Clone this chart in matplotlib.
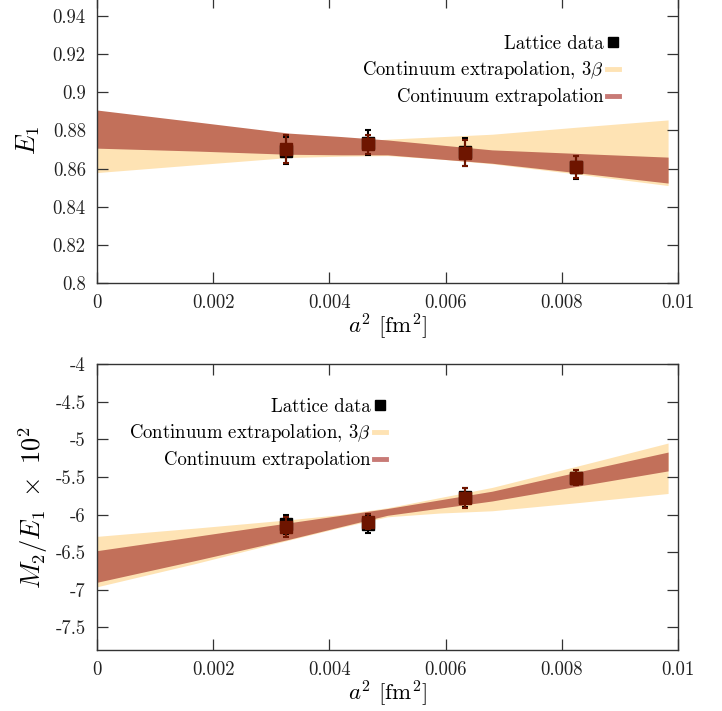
#!/usr/bin/env python3
# -*- coding: utf-8 -*-
"""E1 and M2/E1 vs a^2 with continuum extrapolation bands (two panels)."""

import matplotlib
matplotlib.use("Agg")
import matplotlib.pyplot as plt
from matplotlib.lines import Line2D
from matplotlib.ticker import FuncFormatter, MultipleLocator

# lattice spacings squared [fm^2]
a2 = [0.00325, 0.00466, 0.00633, 0.00824]

# top panel: E1
E1_black = [0.8694, 0.8736, 0.8686, 0.8606]
E1_black_err = [0.0072, 0.0067, 0.0073, 0.0062]
E1_red = [0.8702, 0.8728, 0.8682, 0.8609]
E1_red_err = [0.0075, 0.0050, 0.0068, 0.0059]

# bottom panel: M2/E1 x 10^2
M2_black = [-6.130, -6.126, -5.770, -5.510]
M2_black_err = [0.130, 0.120, 0.125, 0.100]
M2_red = [-6.165, -6.096, -5.780, -5.513]
M2_red_err = [0.133, 0.100, 0.130, 0.100]

band_x = [0.0, 0.0017, 0.0033, 0.0042, 0.0050, 0.0059, 0.0068, 0.0083, 0.00983]

E1_cont_lo = [0.8707, 0.8692, 0.8675, 0.8672, 0.8672, 0.8650, 0.8628, 0.8577, 0.8524]
E1_cont_hi = [0.8907, 0.8845, 0.8786, 0.8768, 0.8750, 0.8724, 0.8698, 0.8679, 0.8660]
E1_3b_lo = [0.8579, 0.8620, 0.8658, 0.8665, 0.8668, 0.8650, 0.8625, 0.8570, 0.8511]
E1_3b_hi = [0.8710, 0.8718, 0.8728, 0.8742, 0.8754, 0.8767, 0.8780, 0.8818, 0.8855]

M2_cont_lo = [-6.90, -6.61, -6.33, -6.16, -6.01, -5.915, -5.82, -5.62, -5.42]
M2_cont_hi = [-6.48, -6.29, -6.11, -6.01, -5.92, -5.805, -5.69, -5.43, -5.17]
M2_3b_lo = [-6.96, -6.65, -6.34, -6.17, -6.03, -5.98, -5.95, -5.84, -5.72]
M2_3b_hi = [-6.29, -6.18, -6.07, -6.00, -5.91, -5.775, -5.64, -5.35, -5.05]

labels = ["Lattice data", r"Continuum extrapolation, $3\beta$", "Continuum extrapolation"]

C_3B = "#FEE3B4"
C_CONT = "#C2705A"
C_CONT_KEY = "#C87A76"
C_RED_PT = "#6E1500"
C_AX = "#333333"

plt.rcParams["font.family"] = "serif"
plt.rcParams["font.serif"] = ["cmr10", "DejaVu Serif"]
plt.rcParams["mathtext.fontset"] = "cm"
plt.rcParams["axes.unicode_minus"] = False
plt.rcParams["axes.formatter.use_mathtext"] = True


def _fmt(v, _pos):
    return f"{round(v, 6):g}"


def _panel(ax, y_blk, e_blk, y_red, e_red, lo3, hi3, loc, hic, ylim, ystep, legend_anchor):
    ax.fill_between(band_x, lo3, hi3, color=C_3B, lw=0, zorder=1)
    ax.fill_between(band_x, loc, hic, color=C_CONT, lw=0, zorder=2)
    ax.errorbar(a2, y_blk, yerr=e_blk, fmt="s", color="black", ms=8, capsize=2,
                elinewidth=1.5, capthick=1.5, zorder=3)
    ax.errorbar(a2, y_red, yerr=e_red, fmt="s", color=C_RED_PT, ms=8, capsize=2,
                elinewidth=1.5, capthick=1.5, zorder=4)

    ax.set_xlim(0.0, 0.01)
    ax.set_ylim(*ylim)
    ax.xaxis.set_major_locator(MultipleLocator(0.002))
    ax.yaxis.set_major_locator(MultipleLocator(ystep))
    ax.xaxis.set_major_formatter(FuncFormatter(_fmt))
    ax.yaxis.set_major_formatter(FuncFormatter(_fmt))
    ax.tick_params(direction="in", length=8, width=0.9, color=C_AX, labelsize=13.5,
                   top=True, right=True, pad=8, labelcolor="#222222")
    for s in ax.spines.values():
        s.set_color(C_AX)
        s.set_linewidth(1.0)
    ax.set_xlabel(r"$a^2$ [fm$^2$]", fontsize=16.5, labelpad=0)

    handles = [
        Line2D([], [], ls="none", marker="s", color="black", ms=7),
        Line2D([], [], color=C_3B, lw=3.5),
        Line2D([], [], color=C_CONT_KEY, lw=3.5),
    ]
    ax.legend(handles, labels, loc="upper right", bbox_to_anchor=legend_anchor,
              frameon=False, markerfirst=False, fontsize=13.5, handlelength=0.65,
              handletextpad=0.15, labelspacing=0.36, borderpad=0, borderaxespad=0)


fig = plt.figure(figsize=(7.22, 7.11), dpi=100)
ax1 = fig.add_axes([0.1343, 0.6020, 0.8047, 0.4023])
ax2 = fig.add_axes([0.1343, 0.0858, 0.8047, 0.4022])

_panel(ax1, E1_black, E1_black_err, E1_red, E1_red_err, E1_3b_lo, E1_3b_hi,
       E1_cont_lo, E1_cont_hi, (0.8, 0.95), 0.02, (0.898, 0.868))
ax1.set_ylabel(r"$E_1$", fontsize=19, labelpad=8)

_panel(ax2, M2_black, M2_black_err, M2_red, M2_red_err, M2_3b_lo, M2_3b_hi,
       M2_cont_lo, M2_cont_hi, (-7.8, -4.0), 0.5, (0.497, 0.882))
ax2.set_ylabel(r"$M_2/E_1\ \times\ 10^2$", fontsize=19, labelpad=4)

fig.savefig("out.png", dpi=100)
